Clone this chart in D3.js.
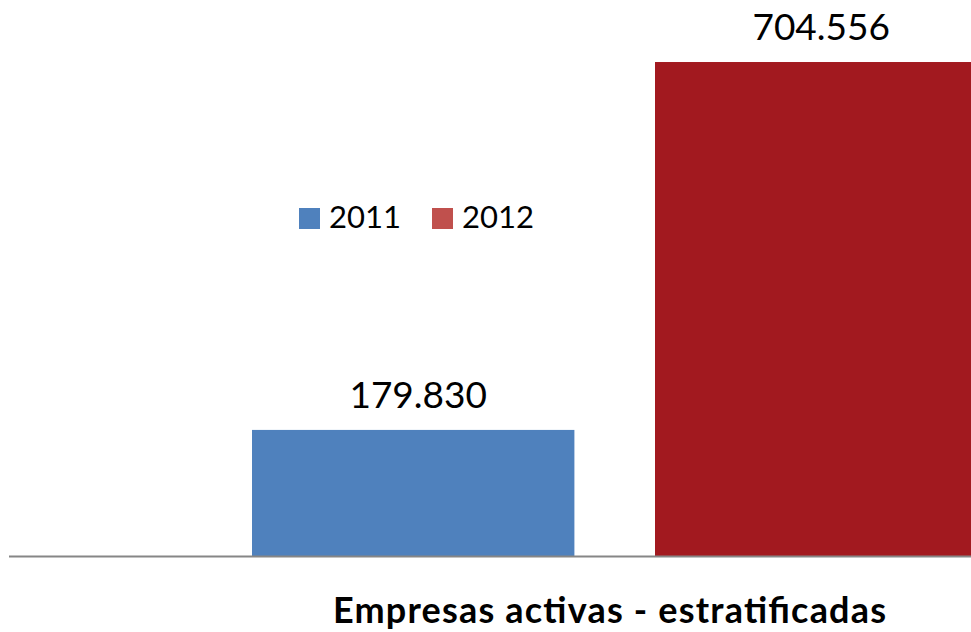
<!doctype html>
<html>
<head>
    <meta charset="UTF-8">
    <title>Empresas activas</title>
    <script src="https://d3js.org/d3.v7.min.js"></script>
    <style>
        body{ margin:0; background:#fff; }
        text{ font-family: Lato, "Open Sans", sans-serif; }
    </style>
</head>
<body>
   <script>
       var years = ["2011", "2012"];
       var values = [179830, 704556];
       var valueLabels = ["179.830", "704.556"];
       var barColors = ["#4F81BD", "#A2191F"];
       var legendColors = ["#4F81BD", "#C0504D"];
       var category = "Empresas activas - estratificadas";

       var svg = d3.select("body").append("svg")
            .attr("width", 971)
            .attr("height", 632);

       var x = d3.scaleBand()
            .domain(years)
            .range([252, 977.4])
            .paddingInner(0.2)
            .paddingOuter(0);

       var y = d3.scaleLinear()
            .domain([0, 800000])
            .range([556, -4.9]);

       // bars
       svg.selectAll("rect.bar")
            .data(years)
            .enter().append("rect")
            .attr("class", "bar")
            .attr("x", function(d){ return x(d); })
            .attr("y", function(d, i){ return y(values[i]); })
            .attr("width", x.bandwidth())
            .attr("height", function(d, i){ return y(0) - y(values[i]); })
            .attr("fill", function(d, i){ return barColors[i]; });

       // value labels
       svg.selectAll("text.val")
            .data(years)
            .enter().append("text")
            .attr("class", "val")
            .attr("x", function(d){ return x(d) + x.bandwidth()/2 + 5; })
            .attr("y", function(d, i){ return y(values[i]) - 22; })
            .attr("text-anchor", "middle")
            .attr("font-size", 37)
            .attr("fill", "#000")
            .text(function(d, i){ return valueLabels[i]; });

       // baseline
       svg.append("line")
            .attr("x1", 9).attr("x2", 971)
            .attr("y1", y(0) + 0.5).attr("y2", y(0) + 0.5)
            .attr("stroke", "#868686")
            .attr("stroke-width", 2);

       // category label
       svg.append("text")
            .attr("x", 333)
            .attr("y", 623)
            .attr("font-size", 36)
            .attr("font-weight", "bold")
            .attr("textLength", 553)
            .attr("lengthAdjust", "spacing")
            .attr("fill", "#000")
            .text(category);

       // legend
       var legendX = [299, 432];
       var lg = svg.selectAll("g.legend")
            .data(years)
            .enter().append("g")
            .attr("class", "legend")
            .attr("transform", function(d, i){ return "translate(" + legendX[i] + ",208)"; });
       lg.append("rect")
            .attr("width", 21).attr("height", 21)
            .attr("fill", function(d, i){ return legendColors[i]; });
       lg.append("text")
            .attr("x", 30)
            .attr("y", 20)
            .attr("font-size", 31)
            .attr("fill", "#000")
            .text(function(d){ return d; });
   </script>
</body>
</html>
